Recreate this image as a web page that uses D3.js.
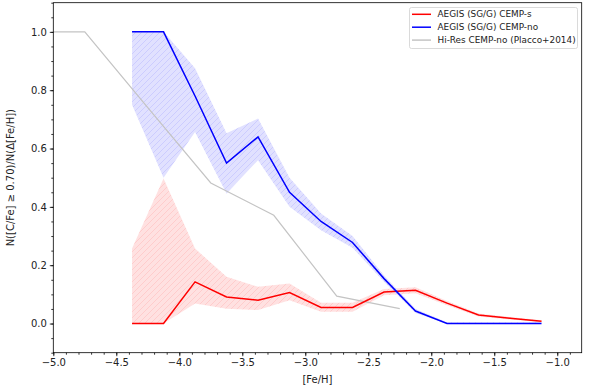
<!DOCTYPE html>
<html><head><meta charset="utf-8">
<script src="https://cdn.jsdelivr.net/npm/d3@7"></script>
<style>body{margin:0;background:#fff}svg{display:block;font-family:"DejaVu Sans",sans-serif}</style>
</head><body><svg id="c" width="592" height="391"></svg>
<script>
const feh = [-4.375,-4.125,-3.875,-3.625,-3.375,-3.125,-2.875,-2.625,-2.375,-2.125,-1.875,-1.625,-1.375,-1.125];
const cempS   = [0,0,0.143,0.091,0.080,0.106,0.055,0.055,0.108,0.114,0.070,0.029,0.018,0.008];
const cempSLo = [0,0,0.069,0.051,0.046,0.080,0.040,0.040,0.097,0.104,0.063,0.024,0.014,0.005];
const cempSHi = [0.257,0.497,0.257,0.160,0.126,0.137,0.071,0.071,0.118,0.124,0.077,0.034,0.022,0.011];
const cempNo   = [1,1,0.78,0.55,0.64,0.45,0.35,0.278,0.154,0.043,0,0,0,0];
const cempNoLo = [0.75,0.5,0.657,0.446,0.56,0.40,0.32,0.26,0.143,0.036,0,0,0,0];
const cempNoHi = [1,1,0.875,0.652,0.703,0.50,0.377,0.30,0.165,0.05,0.004,0.004,0.004,0.004];
const placcoX = [-5.0,-4.75,-4.25,-3.75,-3.25,-2.75,-2.25];
const placcoY = [1.0,1.0,0.74,0.482,0.371,0.094,0.051];
const xTicks = [-5.0,-4.5,-4.0,-3.5,-3.0,-2.5,-2.0,-1.5,-1.0];
const yTicks = [0.0,0.2,0.4,0.6,0.8,1.0];
const legendLabels = ["AEGIS (SG/G) CEMP-s","AEGIS (SG/G) CEMP-no","Hi-Res CEMP-no (Placco+2014)"];

const svg = d3.select("#c");
const L=53.3,R=581.7,T=2.7,B=352.7;
const x = d3.scaleLinear().domain([-5.0,-0.806]).range([L,R]);
const y = d3.scaleLinear().domain([-0.1,1.1]).range([B,T]);

const defs = svg.append("defs");
function hatch(id,bg,fg){
  const p = defs.append("pattern").attr("id",id).attr("patternUnits","userSpaceOnUse").attr("width",6).attr("height",6);
  p.append("rect").attr("width",6).attr("height",6).attr("fill",bg);
  p.append("path").attr("d","M-1,7 L7,-1 M-4,4 L4,-4 M2,10 L10,2").attr("stroke",fg).attr("stroke-width",0.8);
}
hatch("hr","#ffe1e1","#ffc6c6");
hatch("hb","#e1e1ff","#c6c6ff");
defs.append("clipPath").attr("id","clip").append("rect").attr("x",L).attr("y",T).attr("width",R-L).attr("height",B-T);

const g = svg.append("g").attr("clip-path","url(#clip)");
const area = (lo,hi)=>d3.area().x((d,i)=>x(feh[i])).y0((d,i)=>y(lo[i])).y1((d,i)=>y(hi[i]));
const line = (vals,xs)=>d3.line().x((d,i)=>x(xs[i])).y((d,i)=>y(vals[i]));

g.append("path").datum(feh).attr("d",area(cempSLo,cempSHi)).attr("fill","url(#hr)");
g.append("path").datum(feh).attr("d",area(cempNoLo,cempNoHi)).attr("fill","url(#hb)");
g.append("path").datum(placcoX).attr("d",line(placcoY,placcoX)).attr("fill","none").attr("stroke","#c4c4c4").attr("stroke-width",1.2);
g.append("path").datum(feh).attr("d",line(cempS,feh)).attr("fill","none").attr("stroke","#ff0000").attr("stroke-width",1.5);
g.append("path").datum(feh).attr("d",line(cempNo,feh)).attr("fill","none").attr("stroke","#0000ff").attr("stroke-width",1.5);

// axes
const fmt = d3.format(".1f");
const xa = svg.append("g").attr("transform",`translate(0,${B})`).call(d3.axisBottom(x).tickValues(xTicks).tickFormat(fmt).tickSize(3.5).tickPadding(3));
const xm = svg.append("g").attr("transform",`translate(0,${B})`).call(d3.axisBottom(x).tickValues(d3.range(-50,-8).map(v=>v/10)).tickFormat("").tickSize(2));
const ya = svg.append("g").attr("transform",`translate(${L},0)`).call(d3.axisLeft(y).tickValues(yTicks).tickFormat(fmt).tickSize(3.5).tickPadding(3));
const ym = svg.append("g").attr("transform",`translate(${L},0)`).call(d3.axisLeft(y).tickValues(d3.range(-2,23).map(v=>v/20)).tickFormat("").tickSize(2));
[xa,xm,ya,ym].forEach(a=>{a.select(".domain").remove();a.selectAll("line").attr("stroke","#000").attr("stroke-width",0.8);a.selectAll("text").attr("font-size",10).attr("fill","#222").attr("font-family","DejaVu Sans");});

svg.append("rect").attr("x",L).attr("y",T).attr("width",R-L).attr("height",B-T).attr("fill","none").attr("stroke","#000").attr("stroke-width",0.8);

svg.append("text").attr("x",(L+R)/2).attr("y",383).attr("text-anchor","middle").attr("font-size",10).attr("fill","#222").text("[Fe/H]");
svg.append("text").attr("transform",`translate(14,${(T+B)/2}) rotate(-90)`).attr("text-anchor","middle").attr("font-size",10).attr("fill","#222").text("N([C/Fe] ≥ 0.70)/N(Δ[Fe/H])");

// legend
const lg = svg.append("g");
lg.append("rect").attr("x",409.5).attr("y",7.5).attr("width",168).attr("height",41).attr("rx",2).attr("fill","#fff").attr("fill-opacity",0.8).attr("stroke","#d0d0d0").attr("stroke-width",0.8);
const lcol = ["#ff0000","#0000ff","#c4c4c4"];
legendLabels.forEach((t,i)=>{
  const yy = 14.3 + i*12.9;
  lg.append("line").attr("x1",412).attr("x2",431).attr("y1",yy).attr("y2",yy).attr("stroke",lcol[i]).attr("stroke-width",1.5);
  lg.append("text").attr("x",437.5).attr("y",yy+3.1).attr("font-size",8.9).attr("fill","#222").text(t);
});
</script></body></html>
